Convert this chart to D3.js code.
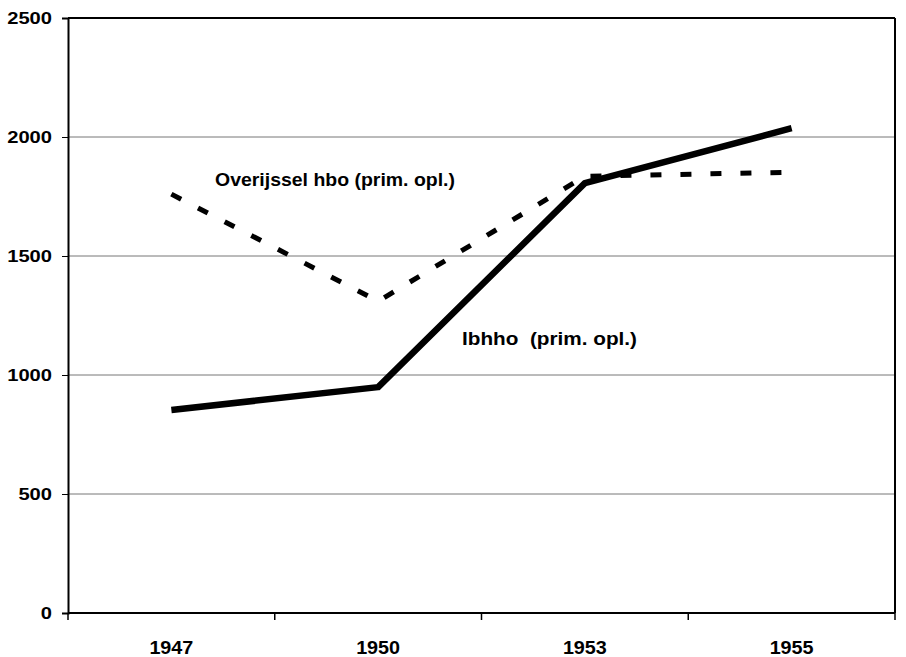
<!DOCTYPE html>
<html>
<head>
<meta charset="utf-8">
<script src="https://cdn.jsdelivr.net/npm/d3@7"></script>
<style>
  body { margin: 0; background: #fff; }
  svg text { font-family: "Liberation Sans", Arial, sans-serif; font-weight: bold; fill: #000; }
</style>
</head>
<body>
<svg id="chart" width="906" height="657"></svg>
<script>
const years = ["1947", "1950", "1953", "1955"];
const ibhho = [853, 949, 1806, 2037];
const overijssel = [1760, 1310, 1835, 1852];
const yTicks = [0, 500, 1000, 1500, 2000, 2500];

const svg = d3.select("#chart");
const m = { left: 68, right: 11, top: 18, bottom: 44 };
const W = 906, H = 657;

const x = d3.scaleBand().domain(years).range([m.left, W - m.right]);
const y = d3.scaleLinear().domain([0, 2500]).range([H - m.bottom, m.top]);

// gridlines
svg.append("g")
  .selectAll("line")
  .data(yTicks.filter(d => d > 0 && d < 2500))
  .enter()
  .append("line")
  .attr("x1", m.left).attr("x2", W - m.right)
  .attr("y1", d => y(d)).attr("y2", d => y(d))
  .attr("stroke", "#777")
  .attr("stroke-width", 1);

// plot border top + right
svg.append("line")
  .attr("x1", m.left).attr("x2", W - m.right)
  .attr("y1", y(2500)).attr("y2", y(2500))
  .attr("stroke", "#000").attr("stroke-width", 2);
svg.append("line")
  .attr("x1", W - m.right).attr("x2", W - m.right)
  .attr("y1", y(2500)).attr("y2", y(0))
  .attr("stroke", "#000").attr("stroke-width", 2);

// y axis
const yAxis = svg.append("g")
  .attr("transform", `translate(${m.left},0)`)
  .call(d3.axisLeft(y).tickValues(yTicks).tickSize(6).tickPadding(10).tickFormat(d3.format("d")));
yAxis.select(".domain").attr("stroke-width", 2);
yAxis.selectAll("text")
  .attr("font-size", 17)
  .attr("text-anchor", "start")
  .attr("x", d => -16 - String(d).length * 11.2)
  .attr("textLength", d => String(d).length * 11.2)
  .attr("lengthAdjust", "spacingAndGlyphs");

// x axis
const bounds = years.map(d => x(d)).concat([W - m.right]);
const xAxis = svg.append("g")
  .attr("transform", `translate(0,${y(0)})`);
xAxis.append("line")
  .attr("x1", m.left).attr("x2", W - m.right)
  .attr("stroke", "#000").attr("stroke-width", 2);
xAxis.selectAll("line.tick")
  .data(bounds)
  .enter()
  .append("line")
  .attr("class", "tick")
  .attr("x1", d => d).attr("x2", d => d)
  .attr("y1", 0).attr("y2", 7)
  .attr("stroke", "#000").attr("stroke-width", 1.5);
xAxis.selectAll("text")
  .data(years)
  .enter()
  .append("text")
  .attr("x", d => x(d) + x.bandwidth() / 2 - 22)
  .attr("y", 41)
  .attr("font-size", 19)
  .attr("textLength", 44)
  .attr("lengthAdjust", "spacingAndGlyphs")
  .text(d => d);

const line = d3.line()
  .x((d, i) => x(years[i]) + x.bandwidth() / 2)
  .y(d => y(d));

svg.append("path")
  .datum(overijssel)
  .attr("d", line)
  .attr("fill", "none")
  .attr("stroke", "#000")
  .attr("stroke-width", 5)
  .attr("stroke-dasharray", "11,19");

svg.append("path")
  .datum(ibhho)
  .attr("d", line)
  .attr("fill", "none")
  .attr("stroke", "#000")
  .attr("stroke-width", 6.5)
  .attr("stroke-linejoin", "round");

// series labels
svg.append("text")
  .attr("x", 215).attr("y", 186)
  .attr("font-size", 18)
  .attr("textLength", 240)
  .attr("lengthAdjust", "spacingAndGlyphs")
  .text("Overijssel hbo (prim. opl.)");
svg.append("text")
  .attr("x", 462).attr("y", 345)
  .attr("font-size", 18)
  .attr("textLength", 175)
  .attr("lengthAdjust", "spacingAndGlyphs")
  .style("white-space", "pre")
  .text("Ibhho  (prim. opl.)");
</script>
</body>
</html>
